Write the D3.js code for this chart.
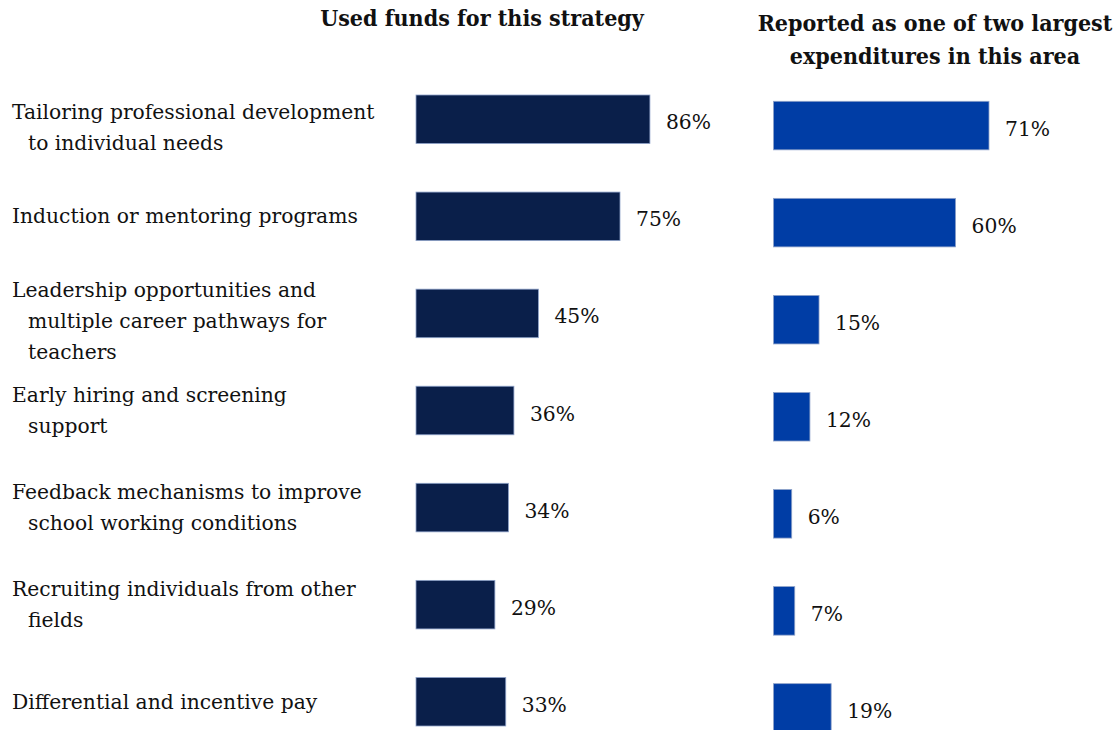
<!DOCTYPE html>
<html>
<head>
<meta charset="utf-8">
<script src="https://cdn.jsdelivr.net/npm/d3@7"></script>
<style>
  body { margin: 0; background: #fff; }
  text { font-family: "DejaVu Serif", serif; fill: #111; }
</style>
</head>
<body>
<script>
// DATA
var categories = [
    ["Tailoring professional development", "to individual needs"],
    ["Induction or mentoring programs"],
    ["Leadership opportunities and", "multiple career pathways for", "teachers"],
    ["Early hiring and screening", "support"],
    ["Feedback mechanisms to improve", "school working conditions"],
    ["Recruiting individuals from other", "fields"],
    ["Differential and incentive pay"]
];
var usedFunds = [86, 75, 45, 36, 34, 29, 33];
var largestExpenditure = [71, 60, 15, 12, 6, 7, 19];
var leftTitle = ["Used funds for this strategy"];
var rightTitle = ["Reported as one of two largest", "expenditures in this area"];

var width = 1119;
var height = 730;

var svg = d3.select('body')
    .append('svg')
    .attr('width', width)
    .attr('height', height);

var idx = d3.range(categories.length);

// Scales
var yLeft = d3.scaleBand().domain(idx).range([95, 726]).paddingInner(0.5).paddingOuter(0);
var yRight = d3.scaleBand().domain(idx).range([101.3, 732.2]).paddingInner(0.5).paddingOuter(0);
var xLeft = d3.scaleLinear().domain([0, 100]).range([416, 688]);
var xRight = d3.scaleLinear().domain([0, 100]).range([773.5, 1077]);

// Titles
svg.append('text')
    .attr('x', 482)
    .attr('y', 26)
    .attr('text-anchor', 'middle')
    .style('font-weight', 'bold')
    .style('font-size', '23px')
    .style('font-stretch', 'condensed')
    .text(leftTitle[0]);

svg.selectAll('.rtitle')
    .data(rightTitle)
    .enter().append('text')
    .attr('class', 'rtitle')
    .attr('x', 935)
    .attr('y', (d, i) => 31 + i * 33)
    .attr('text-anchor', 'middle')
    .style('font-weight', 'bold')
    .style('font-size', '23px')
    .style('font-stretch', 'condensed')
    .text(d => d);

// Category labels
var lineH = 31;
var labels = svg.selectAll('.cat')
    .data(categories)
    .enter().append('text')
    .attr('class', 'cat')
    .style('font-size', '20.3px');

labels.selectAll('tspan')
    .data((d, i) => d.map((line, j) => ({ line: line, j: j, n: d.length, i: i })))
    .enter().append('tspan')
    .attr('x', d => d.j === 0 ? 12 : 28)
    .attr('y', d => yLeft(d.i) + yLeft.bandwidth() / 2 + (d.j - (d.n - 1) / 2) * lineH + 7
        + (d.n === 2 && d.i === 0 || d.n === 3 ? 8 : 0))
    .text(d => d.line);

// Bars
function drawBars(values, x, y, fill, cls) {
    svg.selectAll('.' + cls)
        .data(values)
        .enter().append('rect')
        .attr('class', cls)
        .attr('x', x(0))
        .attr('y', (d, i) => y(i))
        .attr('width', d => x(d) - x(0))
        .attr('height', y.bandwidth())
        .attr('fill', fill)
        .attr('stroke', '#8ea2c9')
        .attr('stroke-width', 0.8);

    svg.selectAll('.' + cls + '-lbl')
        .data(values)
        .enter().append('text')
        .attr('class', cls + '-lbl')
        .attr('x', d => x(d) + 16)
        .attr('y', (d, i) => y(i) + y.bandwidth() / 2 + 10)
        .style('font-size', '20.3px')
        .text(d => d + '%');
}

drawBars(usedFunds, xLeft, yLeft, '#0a1f4a', 'lbar');
drawBars(largestExpenditure, xRight, yRight, '#003da5', 'rbar');
</script>
</body>
</html>
